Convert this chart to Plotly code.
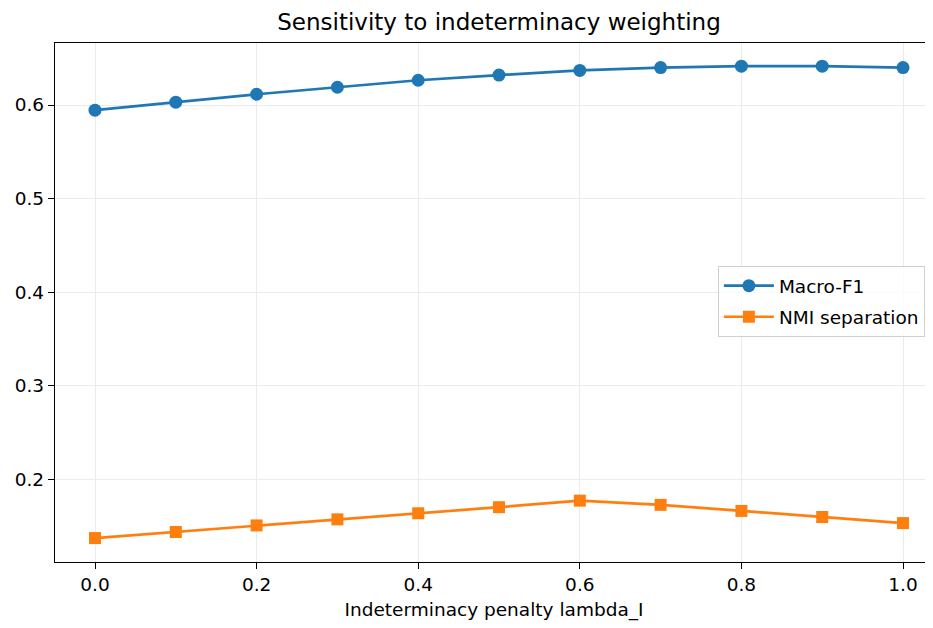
import plotly.graph_objects as go

lambdas = [0.0, 0.1, 0.2, 0.3, 0.4, 0.5, 0.6, 0.7, 0.8, 0.9, 1.0]
macro_f1 = [0.5945, 0.603, 0.6115, 0.619, 0.6265, 0.632, 0.637, 0.640, 0.6415, 0.6415, 0.640]
nmi_sep = [0.137, 0.1435, 0.1505, 0.157, 0.1635, 0.170, 0.1770, 0.1725, 0.166, 0.1595, 0.153]

x_ticks = [0.0, 0.2, 0.4, 0.6, 0.8, 1.0]
x_tick_labels = ["0.0", "0.2", "0.4", "0.6", "0.8", "1.0"]
y_ticks = [0.2, 0.3, 0.4, 0.5, 0.6]
y_tick_labels = ["0.2", "0.3", "0.4", "0.5", "0.6"]

FONT = "DejaVu Sans"

fig = go.Figure()
fig.add_trace(go.Scatter(
    x=lambdas, y=macro_f1, mode="lines+markers", name="Macro-F1", legendgroup="a",
    line=dict(color="#1f77b4", width=2.7),
    marker=dict(symbol="circle", size=13, color="#1f77b4"),
))
fig.add_trace(go.Scatter(
    x=lambdas, y=nmi_sep, mode="lines+markers", name="NMI separation", legendgroup="b",
    line=dict(color="#ff7f0e", width=2.7),
    marker=dict(symbol="square", size=12, color="#ff7f0e"),
))

fig.update_layout(
    width=925, height=620,
    paper_bgcolor="white", plot_bgcolor="white",
    margin=dict(l=47, r=0, t=35, b=66, autoexpand=False),
    font=dict(family=FONT, size=18.5, color="black"),
    title=dict(text="Sensitivity to indeterminacy weighting", xref="paper", x=0.5057, xanchor="center",
               y=1 - 14 / 620, yanchor="middle", font=dict(family=FONT, size=23, color="black")),
    legend=dict(x=0.755, y=0.570, xanchor="left", yanchor="top",
                bgcolor="rgba(255,255,255,0.8)", bordercolor="#d0d0d0", borderwidth=1,
                font=dict(family=FONT, size=18.5), itemwidth=50, tracegroupgap=4,
                traceorder="grouped"),
    showlegend=True,
)
fig.update_xaxes(
    range=[-0.0495, 1.0371], tickvals=x_ticks, ticktext=x_tick_labels,
    showgrid=True, gridcolor="#ebebeb", gridwidth=1,
    showline=True, linecolor="black", linewidth=1.3, mirror=True,
    ticks="outside", ticklen=6, tickwidth=1.3, tickcolor="black",
    zeroline=False,
    title=dict(text="Indeterminacy penalty lambda_I", font=dict(family=FONT, size=18.5), standoff=8),
)
fig.update_yaxes(
    range=[0.1114, 0.6663], tickvals=y_ticks, ticktext=y_tick_labels,
    showgrid=True, gridcolor="#ebebeb", gridwidth=1,
    showline=True, linecolor="black", linewidth=1.3, mirror=False,
    ticks="outside", ticklen=6, tickwidth=1.3, tickcolor="black",
    zeroline=False,
)

fig.write_html("out.html")
